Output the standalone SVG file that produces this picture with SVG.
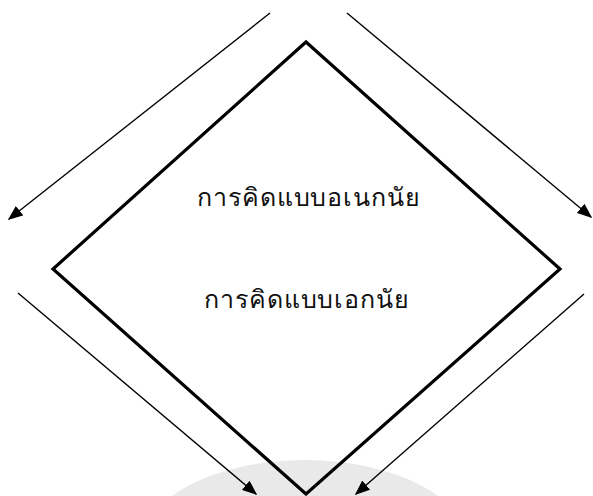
<svg xmlns="http://www.w3.org/2000/svg" width="593" height="496" viewBox="0 0 593 496">
<style>
.shape{fill:none;stroke:#000;stroke-width:3.2;stroke-linejoin:miter}
.conn{stroke:#000;stroke-width:1.4;fill:none;marker-end:url(#ah)}
.lbl{font-family:"Noto Sans","DejaVu Sans",sans-serif;font-size:25px;font-weight:300;letter-spacing:0.9px;fill:#111;text-anchor:middle}
</style>
<defs>
<marker id="ah" viewBox="0 0 10 10" refX="9" refY="5" markerWidth="15" markerHeight="12" markerUnits="userSpaceOnUse" orient="auto" preserveAspectRatio="none">
<path d="M0,0 L10,5 L0,10 z" fill="#000"/>
</marker>
</defs>
<rect width="593" height="496" fill="#fff"/>
<ellipse cx="305" cy="548" rx="165" ry="88" fill="#e9e9e9"/>
<g id="diamond">
<polygon class="shape" points="306,42 560,269 306,494 53,269"/>
<text class="lbl" x="309" y="206">การคิดแบบอเนกนัย</text>
<text class="lbl" x="307" y="308">การคิดแบบเอกนัย</text>
</g>
<g id="connectors">
<line class="conn" x1="270" y1="13" x2="9" y2="219"/>
<line class="conn" x1="347" y1="13" x2="591" y2="217"/>
<line class="conn" x1="18" y1="293" x2="256" y2="494"/>
<line class="conn" x1="584" y1="294" x2="356" y2="494"/>
</g>
</svg>
